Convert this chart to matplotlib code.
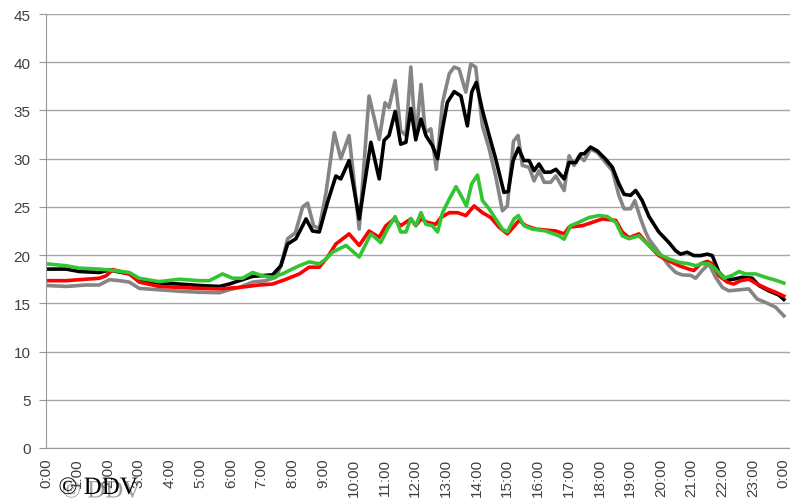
import matplotlib.pyplot as plt
import matplotlib.patheffects as pe

plt.rcParams['font.family'] = ['Liberation Sans', 'DejaVu Sans']

# time of day in hours, value
gray_h = [0.00, 0.64, 1.29, 1.72, 2.05, 2.37, 2.70, 3.02, 3.67, 4.33, 4.98, 5.63, 5.95, 6.28,
          6.71, 7.14, 7.47, 7.63, 7.85, 8.10, 8.34, 8.50, 8.70, 8.88, 9.10, 9.37, 9.58, 9.85,
          10.18, 10.50, 10.83, 11.02, 11.15, 11.35, 11.53, 11.70, 11.86, 12.02, 12.19, 12.33,
          12.51, 12.69, 12.89, 13.11, 13.27, 13.43, 13.65, 13.81, 13.97, 14.19, 14.41, 14.62,
          14.84, 15.00, 15.20, 15.35, 15.49, 15.71, 15.87, 16.03, 16.20, 16.41, 16.58, 16.85,
          17.01, 17.17, 17.33, 17.50, 17.71, 17.93, 18.20, 18.42, 18.63, 18.80, 19.01, 19.15,
          19.34, 19.50, 19.61, 19.93, 20.26, 20.48, 20.69, 20.97, 21.13, 21.34, 21.56, 21.78,
          22.00, 22.21, 22.54, 22.86, 23.13, 23.40, 23.73, 24.00]
gray_v = [16.85, 16.75, 16.9, 16.9, 17.45, 17.35, 17.2, 16.55, 16.4, 16.25, 16.15, 16.1, 16.4, 16.65,
          17.2, 17.35, 17.7, 18.9, 21.7, 22.3, 25.0, 25.4, 23.0, 22.8, 26.5, 32.7, 30.0, 32.4,
          22.7, 36.5, 32.0, 35.8, 35.3, 38.1, 32.9, 32.4, 39.5, 31.9, 37.7, 32.7,
          33.1, 28.9, 35.8, 38.8, 39.5, 39.3, 36.9, 39.8, 39.5, 33.4, 31.0, 28.2,
          24.6, 25.1, 31.8, 32.4, 29.3, 29.1, 27.7, 28.75, 27.55, 27.55, 28.2, 26.7,
          30.3, 29.3, 30.3, 29.8, 31.0, 30.65, 29.6, 28.75, 26.2, 24.8, 24.8, 25.65,
          23.75, 22.4, 21.65, 20.3, 18.9, 18.2, 17.95, 17.9, 17.6, 18.4, 19.1, 17.7,
          16.65, 16.3, 16.4, 16.5, 15.45, 15.1, 14.6, 13.7]

black_h = [0.00, 0.64, 1.07, 1.72, 2.05, 2.70, 3.02, 3.67, 4.33, 4.98, 5.63, 5.95, 6.28, 6.71,
           7.14, 7.36, 7.63, 7.85, 8.12, 8.45, 8.66, 8.88, 9.15, 9.42, 9.58, 9.85, 10.18, 10.56,
           10.83, 10.99, 11.15, 11.35, 11.53, 11.70, 11.86, 12.02, 12.19, 12.35, 12.56, 12.73,
           12.89, 13.05, 13.27, 13.49, 13.70, 13.84, 13.99, 14.19, 14.41, 14.62, 14.89, 15.03,
           15.19, 15.36, 15.54, 15.71, 15.87, 16.03, 16.20, 16.41, 16.58, 16.85, 17.01, 17.23,
           17.39, 17.50, 17.71, 17.93, 18.20, 18.42, 18.63, 18.80, 19.01, 19.18, 19.39, 19.61,
           19.93, 20.26, 20.48, 20.64, 20.85, 21.07, 21.29, 21.51, 21.67, 21.89, 22.10, 22.37,
           22.64, 22.97, 23.19, 23.51, 23.84, 24.00]
black_v = [18.55, 18.55, 18.3, 18.2, 18.45, 18.05, 17.35, 17.1, 17.0, 16.85, 16.75, 17.0, 17.35, 17.8,
           17.9, 17.95, 18.9, 21.15, 21.7, 23.75, 22.5, 22.4, 25.5, 28.2, 27.9, 29.8, 23.75, 31.7,
           27.9, 31.9, 32.4, 34.9, 31.5, 31.7, 35.2, 32.0, 34.1, 32.4, 31.35, 30.0,
           33.1, 35.85, 36.95, 36.5, 33.4, 36.9, 37.9, 35.0, 32.4, 30.0, 26.5, 26.6,
           29.8, 31.1, 29.8, 29.8, 28.75, 29.45, 28.6, 28.6, 28.9, 27.9, 29.6, 29.6,
           30.5, 30.5, 31.2, 30.8, 29.95, 29.1, 27.4, 26.3, 26.2, 26.7, 25.65, 24.0,
           22.4, 21.3, 20.45, 20.1, 20.3, 19.95, 19.95, 20.1, 19.95, 18.2, 17.5, 17.5,
           17.7, 17.6, 16.85, 16.3, 15.85, 15.4]

red_h = [0.00, 0.64, 1.07, 1.72, 1.94, 2.16, 2.70, 3.02, 3.67, 4.33, 4.98, 5.63, 6.28, 6.93,
         7.36, 7.80, 8.23, 8.55, 8.88, 9.15, 9.42, 9.85, 10.18, 10.50, 10.83, 11.05, 11.32, 11.53,
         11.86, 12.02, 12.19, 12.40, 12.67, 12.84, 13.11, 13.38, 13.65, 13.92, 14.19, 14.46,
         14.73, 15.00, 15.20, 15.38, 15.60, 15.92, 16.58, 16.85, 17.01, 17.44, 17.77, 18.09,
         18.53, 18.74, 18.96, 19.28, 19.61, 19.93, 20.26, 20.59, 20.91, 21.07, 21.29, 21.51,
         21.67, 21.89, 22.16, 22.37, 22.59, 22.86, 23.13, 23.46, 23.73, 24.00]
red_v = [17.35, 17.35, 17.45, 17.6, 17.85, 18.5, 18.05, 17.2, 16.75, 16.65, 16.55, 16.5, 16.65, 16.9,
         17.0, 17.5, 18.05, 18.75, 18.75, 19.8, 21.15, 22.2, 21.0, 22.5, 21.85, 23.05, 23.75, 23.05,
         23.75, 23.05, 23.75, 23.4, 23.2, 23.9, 24.4, 24.4, 24.1, 25.1, 24.4, 23.9,
         22.9, 22.2, 22.9, 23.6, 23.05, 22.7, 22.5, 22.2, 22.9, 23.05, 23.4, 23.75,
         23.6, 22.4, 21.8, 22.2, 21.0, 19.95, 19.4, 18.9, 18.55, 18.4, 19.1, 19.35,
         19.1, 17.85, 17.2, 17.0, 17.35, 17.5, 17.0, 16.5, 16.15, 15.75]

green_h = [0.00, 0.64, 1.07, 1.72, 2.05, 2.70, 3.02, 3.67, 4.33, 4.98, 5.30, 5.73, 6.06, 6.38,
           6.71, 7.03, 7.36, 7.68, 7.90, 8.23, 8.55, 8.88, 9.10, 9.31, 9.75, 10.18, 10.56, 10.88,
           11.10, 11.35, 11.53, 11.70, 11.86, 12.02, 12.19, 12.35, 12.56, 12.73, 12.89, 13.11,
           13.33, 13.49, 13.67, 13.84, 14.03, 14.19, 14.41, 14.62, 14.84, 15.00, 15.22, 15.36,
           15.54, 15.81, 16.25, 16.68, 16.85, 17.06, 17.33, 17.66, 17.98, 18.25, 18.53, 18.74,
           18.96, 19.28, 19.61, 19.93, 20.26, 20.59, 20.91, 21.13, 21.34, 21.56, 21.78, 22.05,
           22.32, 22.54, 22.75, 23.08, 23.40, 23.73, 24.00]
green_v = [19.1, 18.9, 18.65, 18.55, 18.45, 18.2, 17.6, 17.25, 17.5, 17.35, 17.35, 18.05, 17.6, 17.6,
           18.2, 17.85, 17.7, 18.05, 18.4, 18.9, 19.3, 19.1, 19.6, 20.3, 21.0, 19.8, 22.2, 21.3,
           22.7, 24.0, 22.4, 22.4, 23.8, 23.05, 24.4, 23.2, 23.05, 22.4, 24.4, 25.8,
           27.1, 26.2, 25.1, 27.4, 28.3, 25.65, 24.8, 23.75, 22.7, 22.4, 23.75, 24.1,
           23.05, 22.7, 22.5, 22.0, 21.65, 23.05, 23.4, 23.9, 24.1, 24.0, 23.4, 22.0,
           21.7, 22.0, 21.0, 20.1, 19.6, 19.25, 19.1, 18.9, 19.1, 19.1, 18.55, 17.6,
           17.9, 18.3, 18.05, 18.05, 17.7, 17.4, 17.1]

hour_ticks = list(range(25))
hour_labels = [f"{h % 24}:00" for h in hour_ticks]
y_ticks = list(range(0, 50, 5))

fig = plt.figure(figsize=(7.9, 5.02), dpi=100)
ax = fig.add_axes([0.058, 0.1056, 0.942, 0.8645])

lw = 2.6
ax.plot(gray_h, gray_v, color='#858585', lw=lw, solid_joinstyle='round')
ax.plot(black_h, black_v, color='black', lw=lw, solid_joinstyle='round')
ax.plot(red_h, red_v, color='#ff0000', lw=lw, solid_joinstyle='round')
ax.plot(green_h, green_v, color='#33c433', lw=lw, solid_joinstyle='round')

ax.set_xlim(-0.02, 24.2)
ax.set_ylim(0, 45)
ax.set_yticks(y_ticks)
ax.set_xticks(hour_ticks)
ax.set_xticklabels(hour_labels, rotation=90)
ax.grid(axis='y', color='#a6a6a6', lw=1)
ax.set_axisbelow(True)

for s in ['top', 'right']:
    ax.spines[s].set_visible(False)
for s in ['left', 'bottom']:
    ax.spines[s].set_color('#999999')
ax.tick_params(axis='y', length=5, color='#999999', labelsize=11, labelcolor='#404040', pad=6)
ax.tick_params(axis='x', length=0, labelsize=11, labelcolor='#404040', pad=7)

# watermark
fig.text(0.074, 0.014, "© DDV", family='Liberation Serif', fontsize=18, color='black',
         path_effects=[pe.withSimplePatchShadow(offset=(2.5, -2.5), shadow_rgbFace='#777777', alpha=0.7)])

fig.savefig('out.png', dpi=100)
